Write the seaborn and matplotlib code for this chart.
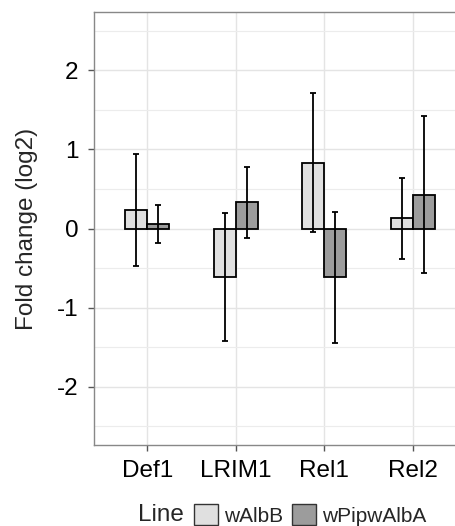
import numpy as np
import pandas as pd
import matplotlib
matplotlib.use("Agg")
import matplotlib.pyplot as plt
from matplotlib.patches import Patch
from matplotlib.ticker import MultipleLocator
import seaborn as sns

# values
genes = ["Def1", "LRIM1", "Rel1", "Rel2"]
lines = ["wAlbB", "wPipwAlbA"]
fold_walbb = [0.23, -0.62, 0.83, 0.13]
err_walbb = [0.71, 0.81, 0.88, 0.51]
fold_wpip = [0.06, 0.33, -0.62, 0.43]
err_wpip = [0.24, 0.45, 0.83, 0.99]
bar_colors = ["#e0e0e0", "#9c9c9c"]

df = pd.DataFrame({
    "Gene": genes * 2,
    "Line": [lines[0]] * 4 + [lines[1]] * 4,
    "Fold": fold_walbb + fold_wpip,
    "Err": err_walbb + err_wpip,
})

sns.set_style("white")
plt.rcParams["font.family"] = ["Liberation Sans", "DejaVu Sans"]
plt.rcParams["axes.unicode_minus"] = False

fig = plt.figure(figsize=(4.55, 5.26), dpi=100)
ax = fig.add_axes([94 / 455, 81 / 526, 372 / 455, 433 / 526])

sns.barplot(data=df, x="Gene", y="Fold", hue="Line", hue_order=lines,
            order=genes, palette=bar_colors, width=0.5, errorbar=None,
            edgecolor="black", linewidth=1.3, legend=False, ax=ax, zorder=3)

# error bars at the centre of each drawn bar
for cont, lv in zip(ax.containers, lines):
    sub = df[df["Line"] == lv].set_index("Gene").loc[genes]
    xs = [p.get_x() + p.get_width() / 2 for p in cont.patches]
    ax.errorbar(xs, sub["Fold"], yerr=sub["Err"], fmt="none", ecolor="black",
                elinewidth=1.3, capsize=2.3, capthick=1.3, zorder=4)

ax.set_xlim(-0.6, 3.6)
ax.set_ylim(-2.74, 2.74)
ax.yaxis.set_major_locator(MultipleLocator(1))
ax.yaxis.set_minor_locator(MultipleLocator(0.5))
ax.grid(True, which="major", color="#e4e4e4", linewidth=1.0, zorder=0)
ax.grid(True, which="minor", axis="y", color="#ececec", linewidth=0.8, zorder=0)
ax.set_axisbelow(True)

for side in ["left", "bottom", "top"]:
    ax.spines[side].set_color("#888888")
    ax.spines[side].set_linewidth(1.0)
ax.spines["right"].set_visible(False)

ax.tick_params(axis="both", which="major", length=4, width=1, color="#555555",
               labelsize=17.5, labelcolor="black", pad=7, left=True, bottom=True)
ax.tick_params(axis="y", which="minor", length=0)
ax.set_xlabel("")
ax.set_ylabel("Fold change (log2)", fontsize=17.5, labelpad=14)

handles = [Patch(facecolor=c, edgecolor="#333333", linewidth=1.0) for c in bar_colors]
fig.text(138 / 455, 1 - 515 / 526, "Line", fontsize=17.5, va="center", ha="left")
fig.legend(handles, lines, loc="center left", bbox_to_anchor=(194 / 455, 1 - 515 / 526),
           ncol=2, frameon=False, fontsize=15, handlelength=1.15, handleheight=1.15,
           handletextpad=0.3, columnspacing=0.4, borderaxespad=0, borderpad=0)

fig.savefig("out.png", dpi=100)
